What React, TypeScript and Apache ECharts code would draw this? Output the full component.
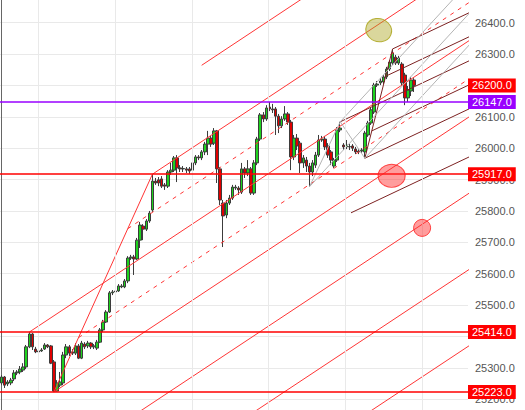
import React, { useEffect, useRef } from 'react';
import * as echarts from 'echarts';

// number of category slots on the time axis (candles + empty space on the right)
const N = 152;

const opens = [
  25252, 25271, 25249, 25252, 25265, 25284, 25287, 25293, 25303, 25367,
  25408, 25360, 25354, 25354, 25360, 25373, 25370, 25319, 25226, 25245,
  25252, 25341, 25367, 25351, 25347, 25370, 25331, 25376, 25370, 25379,
  25367, 25363, 25382, 25421, 25446, 25478, 25539, 25542, 25545, 25558,
  25558, 25577, 25650, 25653, 25647, 25707, 25752, 25742, 25768, 25803,
  25895, 25899, 25902, 25883, 25879, 25924, 25930, 25969, 25937, 25934,
  25934, 25934, 25930, 25953, 25972, 25969, 25988, 26013, 26032, 26016,
  26055, 25934, 25825, 25787, 25825, 25841, 25873, 25873, 25860, 25934,
  25921, 25934, 25857, 25953, 26029, 26106, 26093, 26131, 26125, 26125,
  26102, 26071, 26093, 26109, 26083, 25972, 26032, 26016, 25953, 25962,
  25943, 25924, 25946, 25978, 26026, 26029, 26007, 25988, 25943, 25962,
  26058, 26010, 26004, 26004, 26007, 25997, 25991, 25991, 25988, 26042,
  26080, 26115, 26201, 26208, 26211, 26227, 26252, 26271, 26290, 26271,
  26268, 26233, 26160, 26182, 26217,
];
const closes = [
  25271, 25245, 25255, 25261, 25284, 25287, 25296, 25303, 25367, 25408,
  25367, 25351, 25351, 25357, 25373, 25367, 25315, 25226, 25252, 25255,
  25341, 25367, 25347, 25347, 25370, 25331, 25379, 25367, 25379, 25367,
  25370, 25382, 25421, 25446, 25478, 25539, 25542, 25545, 25561, 25561,
  25577, 25650, 25653, 25647, 25707, 25755, 25742, 25768, 25793, 25895,
  25889, 25889, 25879, 25879, 25924, 25930, 25969, 25937, 25934, 25935,
  25930, 25927, 25953, 25972, 25969, 25988, 26013, 26032, 26013, 26055,
  25934, 25835, 25784, 25825, 25841, 25876, 25876, 25867, 25934, 25921,
  25934, 25857, 25953, 26029, 26106, 26093, 26128, 26125, 26122, 26102,
  26071, 26093, 26109, 26083, 25972, 26032, 26007, 25953, 25969, 25943,
  25924, 25953, 25978, 26026, 26029, 26004, 25978, 25962, 25962, 26058,
  26064, 26004, 26010, 26005, 26000, 25988, 25988, 25994, 26048, 26080,
  26122, 26201, 26204, 26214, 26227, 26252, 26274, 26303, 26271, 26287,
  26208, 26160, 26185, 26217, 26200,
];
const lows = [
  25245, 25236, 25242, 25245, 25258, 25277, 25280, 25287, 25296, 25363,
  25357, 25347, 25347, 25351, 25357, 25363, 25312, 25223, 25225, 25239,
  25245, 25331, 25338, 25341, 25341, 25328, 25328, 25360, 25363, 25360,
  25360, 25357, 25379, 25414, 25443, 25475, 25532, 25535, 25542, 25554,
  25554, 25570, 25644, 25596, 25644, 25682, 25707, 25736, 25762, 25797,
  25883, 25879, 25873, 25867, 25873, 25915, 25924, 25892, 25924, 25924,
  25921, 25918, 25924, 25946, 25962, 25962, 25978, 25978, 26004, 26010,
  25889, 25819, 25685, 25777, 25819, 25835, 25867, 25851, 25854, 25905,
  25911, 25851, 25851, 25946, 26023, 26083, 26087, 26118, 26112, 26042,
  26048, 26064, 26087, 26074, 25930, 25962, 25994, 25921, 25937, 25924,
  25877, 25911, 25937, 25972, 26020, 25994, 25969, 25946, 25937, 25956,
  26051, 25994, 25997, 25994, 25991, 25981, 25981, 25985, 25968, 26036,
  26074, 26109, 26195, 26201, 26204, 26220, 26246, 26265, 26265, 26265,
  26201, 26137, 26147, 26166, 26179,
];
const highs = [
  25277, 25274, 25261, 25268, 25293, 25293, 25306, 25315, 25373, 25414,
  25411, 25367, 25360, 25363, 25379, 25376, 25373, 25325, 25261, 25287,
  25351, 25376, 25373, 25360, 25379, 25376, 25386, 25382, 25386, 25382,
  25376, 25389, 25427, 25453, 25484, 25545, 25548, 25551, 25567, 25567,
  25583, 25656, 25660, 25660, 25714, 25765, 25758, 25774, 25800, 25917,
  25905, 25908, 25911, 25889, 25930, 25953, 25975, 25978, 25946, 25943,
  25940, 25940, 25962, 25978, 25978, 25994, 26020, 26055, 26039, 26064,
  26058, 25940, 25835, 25835, 25851, 25883, 25883, 25879, 25953, 25940,
  25962, 25940, 25962, 26036, 26112, 26115, 26137, 26147, 26141, 26131,
  26109, 26102, 26134, 26115, 26090, 26042, 26045, 26023, 25978, 25972,
  25953, 25962, 25988, 26042, 26039, 26039, 26016, 25994, 25969, 26067,
  26084, 26016, 26026, 26013, 26013, 26004, 25997, 26000, 26055, 26087,
  26128, 26208, 26214, 26223, 26233, 26259, 26281, 26316, 26297, 26294,
  26274, 26240, 26198, 26227, 26223,
];

// pitchfork pivots: [candle index, price]
const redPivots = [[9, 25414], [17, 25223], [49, 25917]];
const brownPivots = [[110, 26084], [118, 25968], [127, 26316]];
const grayPivots = [[100, 25877], [110, 26084], [118, 25968]];
const redLevels = [-2, -1, -0.5, 0, 0.5, 1, 2, 3, 4];
const brownLevels = [-1, -0.5, 0, 0.5, 1, 2];
const grayLevels = [-1, 0, 1];

// horizontal price levels
const redPriceLines = [25917, 25414, 25223];
const purplePriceLine = 26147;
const lastPrice = 26200;

// price range of the axis (part of it lies beyond the picture's edges)
const axisMin = 25100;
const axisMax = 26500;

// vertical grid (date ticks) positions, in candle-index units
const dateTickIdx = [11.9, 36.9, 61.9, 86.6, 111.6, 136.6];

// highlight markers: [candle index, price]
const oliveMark = [122.5, 26376];
const bigRedMark = [126.7, 25912];
const smallRedMark = [136.6, 25746];

const categories = Array.from({ length: N }, (_, i) => String(i));
const FONT = 'Arial, "Liberation Sans", sans-serif';
const X_END = 170;

function pitchfork(p: number[][], levels: number[]) {
  const [P0, P1, P2] = p;
  const M = [(P1[0] + P2[0]) / 2, (P1[1] + P2[1]) / 2];
  const slope = (M[1] - P0[1]) / (M[0] - P0[0]);
  const hx = (P1[0] - P2[0]) / 2;
  const hy = (P1[1] - P2[1]) / 2;
  return levels.map((k) => {
    const s = k === 0 ? P0 : [M[0] + k * hx, M[1] + k * hy];
    return { k, pts: [s, [X_END, s[1] + (X_END - s[0]) * slope]] };
  });
}

function seg(pts: number[][], color: string, type: any = 'solid', width = 1) {
  return {
    type: 'line',
    xAxisIndex: 1,
    yAxisIndex: 0,
    data: pts,
    symbol: 'none',
    showSymbol: false,
    silent: true,
    clip: true,
    z: 3,
    lineStyle: { color, width, type },
  };
}

// axis labels fully hidden behind a price box in the reference
const boxedLevels = [lastPrice, ...redPriceLines, purplePriceLine];

export default function App() {
  const ref = useRef<HTMLDivElement>(null);

  useEffect(() => {
    if (!ref.current) return;
    const chart = echarts.init(ref.current, undefined, { renderer: 'svg' });

    const RED = '#ff3535';
    const BROWN = '#7d2222';
    const GRAY = '#b4b4b4';

    const lineSeries: any[] = [];
    pitchfork(redPivots, redLevels).forEach(({ k, pts }) => {
      lineSeries.push(seg(pts, RED, Math.abs(k) === 0.5 ? [4, 5] : 'solid'));
    });
    lineSeries.push(seg([redPivots[1], redPivots[2]], RED));
    pitchfork(brownPivots, brownLevels).forEach(({ pts }) => {
      lineSeries.push(seg(pts, BROWN));
    });
    lineSeries.push(seg([brownPivots[1], brownPivots[2]], BROWN));
    pitchfork(grayPivots, grayLevels).forEach(({ pts }) => {
      lineSeries.push(seg(pts, GRAY));
    });
    lineSeries.push(seg([grayPivots[0], grayPivots[1]], GRAY));
    lineSeries.push(seg([grayPivots[1], grayPivots[2]], GRAY));

    const candleData = opens.map((o, i) => [o, closes[i], lows[i], highs[i]]);

    const boxLabel = (bg: string) => ({
      show: true,
      position: 'end',
      distance: 0,
      color: '#fff',
      backgroundColor: bg,
      fontSize: 11,
      fontFamily: FONT,
      padding: [2, 4, 1, 4],
      formatter: (p: any) => Number(p.value).toFixed(1),
    });

    const option: any = {
      animation: false,
      backgroundColor: '#ffffff',
      grid: {
        left: 0,
        right: 57,
        top: -8.79,
        height: 439.46,
        containLabel: false,
        outerBoundsMode: 'none',
      },
      xAxis: [
        {
          type: 'category',
          data: categories,
          boundaryGap: true,
          axisLine: { show: false },
          axisTick: { show: false },
          axisLabel: { show: false },
          splitLine: { show: false },
        },
        {
          type: 'value',
          min: -0.5,
          max: N - 0.5,
          show: false,
          splitLine: { show: false },
        },
      ],
      yAxis: {
        type: 'value',
        position: 'right',
        min: axisMin,
        max: axisMax,
        interval: 100,
        axisLine: { show: true, lineStyle: { color: '#666', width: 1 } },
        axisTick: { show: false },
        axisLabel: {
          color: '#555',
          fontSize: 11,
          fontFamily: FONT,
          margin: 7,
          formatter: (v: number) =>
            v === axisMin || v === axisMax || boxedLevels.some((b) => Math.abs(b - v) < 15)
              ? ''
              : v.toFixed(1),
        },
        splitLine: { show: true, lineStyle: { color: '#e9e9e9', width: 1 } },
      },
      series: [
        {
          type: 'line',
          xAxisIndex: 1,
          data: [],
          silent: true,
          z: 0,
          markLine: {
            silent: true,
            symbol: ['none', 'none'],
            label: { show: false },
            lineStyle: { color: '#e9e9e9', width: 1, type: 'solid' },
            data: dateTickIdx.map((x) => ({ xAxis: x })),
          },
        },
        {
          type: 'candlestick',
          xAxisIndex: 0,
          data: candleData,
          barWidth: 3,
          z: 2,
          itemStyle: {
            color: '#1ed21e',
            color0: '#e00000',
            borderColor: '#3c3c3c',
            borderColor0: '#3c3c3c',
            borderWidth: 1,
          },
        },
        ...lineSeries,
        {
          type: 'line',
          xAxisIndex: 0,
          data: [],
          clip: false,
          silent: true,
          z: 5,
          markLine: {
            silent: true,
            symbol: ['none', 'none'],
            data: [
              ...redPriceLines.map((v) => ({
                yAxis: v,
                lineStyle: { color: '#ff0000', width: 1.5, type: 'solid' },
                label: boxLabel('#ff0000'),
              })),
              {
                yAxis: purplePriceLine,
                lineStyle: { color: '#9900ff', width: 1.5, type: 'solid' },
                label: boxLabel('#9900ff'),
              },
              {
                yAxis: lastPrice,
                lineStyle: { color: 'rgba(0,0,0,0)', width: 0 },
                label: boxLabel('#ff0000'),
              },
            ],
          },
        },
        {
          type: 'scatter',
          xAxisIndex: 1,
          data: [oliveMark],
          symbol: 'circle',
          symbolSize: [26, 23],
          symbolRotate: -20,
          silent: true,
          z: 6,
          itemStyle: { color: 'rgba(170,165,30,0.55)', borderColor: '#a8a010', borderWidth: 1 },
        },
        {
          type: 'scatter',
          xAxisIndex: 1,
          data: [bigRedMark],
          symbol: 'circle',
          symbolSize: [27, 23],
          silent: true,
          z: 6,
          itemStyle: { color: 'rgba(255,50,50,0.6)', borderColor: '#ff2020', borderWidth: 1 },
        },
        {
          type: 'scatter',
          xAxisIndex: 1,
          data: [smallRedMark],
          symbol: 'circle',
          symbolSize: [17, 17],
          silent: true,
          z: 6,
          itemStyle: { color: 'rgba(255,50,50,0.6)', borderColor: '#ff2020', borderWidth: 1 },
        },
      ],
    };

    chart.setOption(option);
    return () => chart.dispose();
  }, []);

  return (
    <div
      ref={ref}
      style={{ position: 'absolute', left: 0, top: 0, width: 525, height: 410 }}
    />
  );
}
